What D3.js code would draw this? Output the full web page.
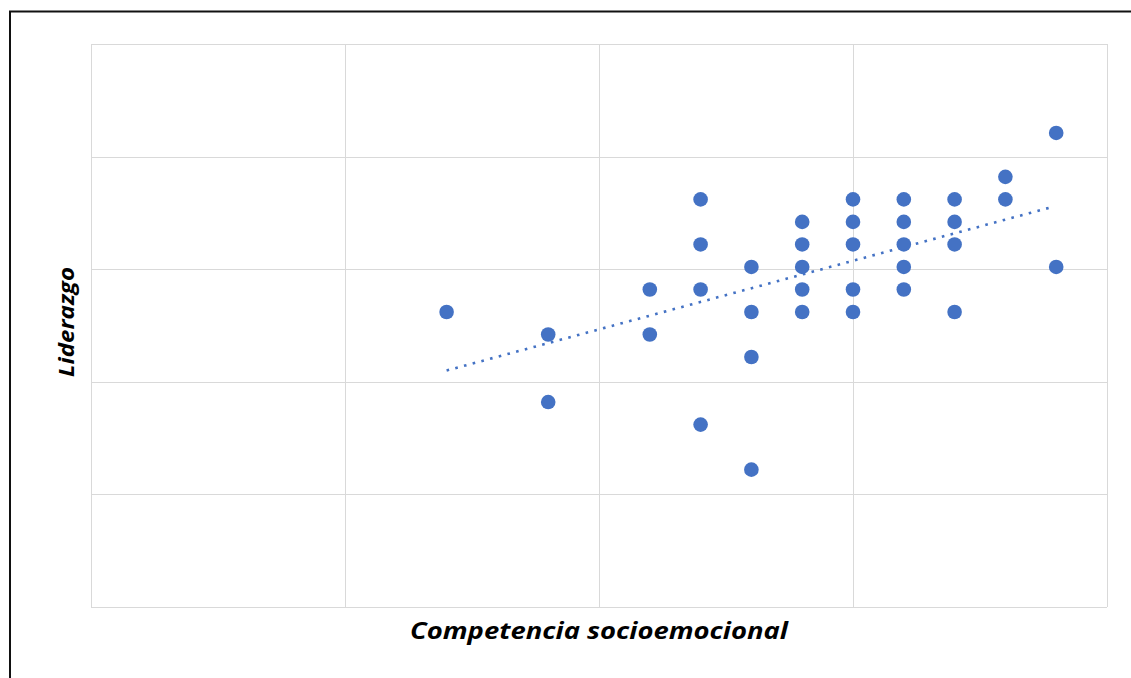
<!DOCTYPE html>
<html>
<head>
<meta charset="utf-8">
<script src="https://cdn.jsdelivr.net/npm/d3@7"></script>
<style>
  html, body { margin: 0; padding: 0; background: #fff; }
  svg { display: block; }
</style>
</head>
<body>
<svg id="chart" width="1131" height="678"></svg>
<script>
// ---- Data ----
const xValues = [7, 9, 9, 11, 11, 12, 12, 12, 12, 13, 13, 13, 13,
                 14, 14, 14, 14, 14, 15, 15, 15, 15, 15, 16, 16, 16, 16, 16,
                 17, 17, 17, 17, 18, 18, 19, 19];
const yValues = [13.1, 12.1, 9.1, 14.1, 12.1, 18.1, 16.1, 14.1, 8.1, 15.1, 13.1, 11.1, 6.1,
                 17.1, 16.1, 15.1, 14.1, 13.1, 18.1, 17.1, 16.1, 14.1, 13.1, 18.1, 17.1, 16.1, 15.1, 14.1,
                 18.1, 17.1, 16.1, 13.1, 19.1, 18.1, 21.05, 15.1];
const trendX = [7, 18.9];
const trendY = [10.5, 17.75];
const xTicks = [0, 5, 10, 15, 20];
const yTicks = [0, 5, 10, 15, 20, 25];
const xTitle = "Competencia socioemocional";
const yTitle = "Liderazgo";

const svg = d3.select("#chart");
const plot = { left: 91, top: 44, right: 1107, bottom: 607 };

const x = d3.scaleLinear().domain([0, 20]).range([plot.left, plot.right]);
const y = d3.scaleLinear().domain([0, 25]).range([plot.bottom, plot.top]);

// outer frame (left and top edges visible)
svg.append("path")
  .attr("d", `M10,678 L10,11.5 L1131,11.5`)
  .attr("fill", "none").attr("stroke", "#111").attr("stroke-width", 2);

// grid
const grid = svg.append("g");
grid.selectAll("line.v").data(xTicks).join("line")
  .attr("x1", d => Math.round(x(d)) + 0.5).attr("x2", d => Math.round(x(d)) + 0.5)
  .attr("y1", plot.top).attr("y2", plot.bottom)
  .attr("stroke", "#d9d9d9").attr("stroke-width", 1);
grid.selectAll("line.h").data(yTicks).join("line")
  .attr("y1", d => Math.round(y(d)) + 0.5).attr("y2", d => Math.round(y(d)) + 0.5)
  .attr("x1", plot.left).attr("x2", plot.right)
  .attr("stroke", "#d9d9d9").attr("stroke-width", 1);

// trendline
svg.append("line")
  .attr("x1", x(trendX[0])).attr("y1", y(trendY[0]))
  .attr("x2", x(trendX[1])).attr("y2", y(trendY[1]))
  .attr("stroke", "#4472C4").attr("stroke-width", 2.6)
  .attr("stroke-dasharray", "2.6,6.4");

// points
svg.append("g").selectAll("circle").data(xValues.map((d, i) => [d, yValues[i]])).join("circle")
  .attr("cx", d => x(d[0])).attr("cy", d => y(d[1]))
  .attr("r", 7.3).attr("fill", "#4472C4");

// axis titles
svg.append("text")
  .attr("x", 599).attr("y", 638.5)
  .attr("text-anchor", "middle")
  .attr("font-family", "'Open Sans', sans-serif")
  .attr("font-weight", "bold").attr("font-style", "italic")
  .attr("font-size", 22.5)
  .attr("textLength", 378).attr("lengthAdjust", "spacingAndGlyphs")
  .attr("fill", "#000")
  .text(xTitle);

svg.append("text")
  .attr("transform", "translate(74,322) rotate(-90)")
  .attr("text-anchor", "middle")
  .attr("font-family", "'Open Sans', sans-serif")
  .attr("font-weight", "bold").attr("font-style", "italic")
  .attr("font-size", 22)
  .attr("textLength", 110).attr("lengthAdjust", "spacingAndGlyphs")
  .attr("fill", "#000")
  .text(yTitle);
</script>
</body>
</html>
